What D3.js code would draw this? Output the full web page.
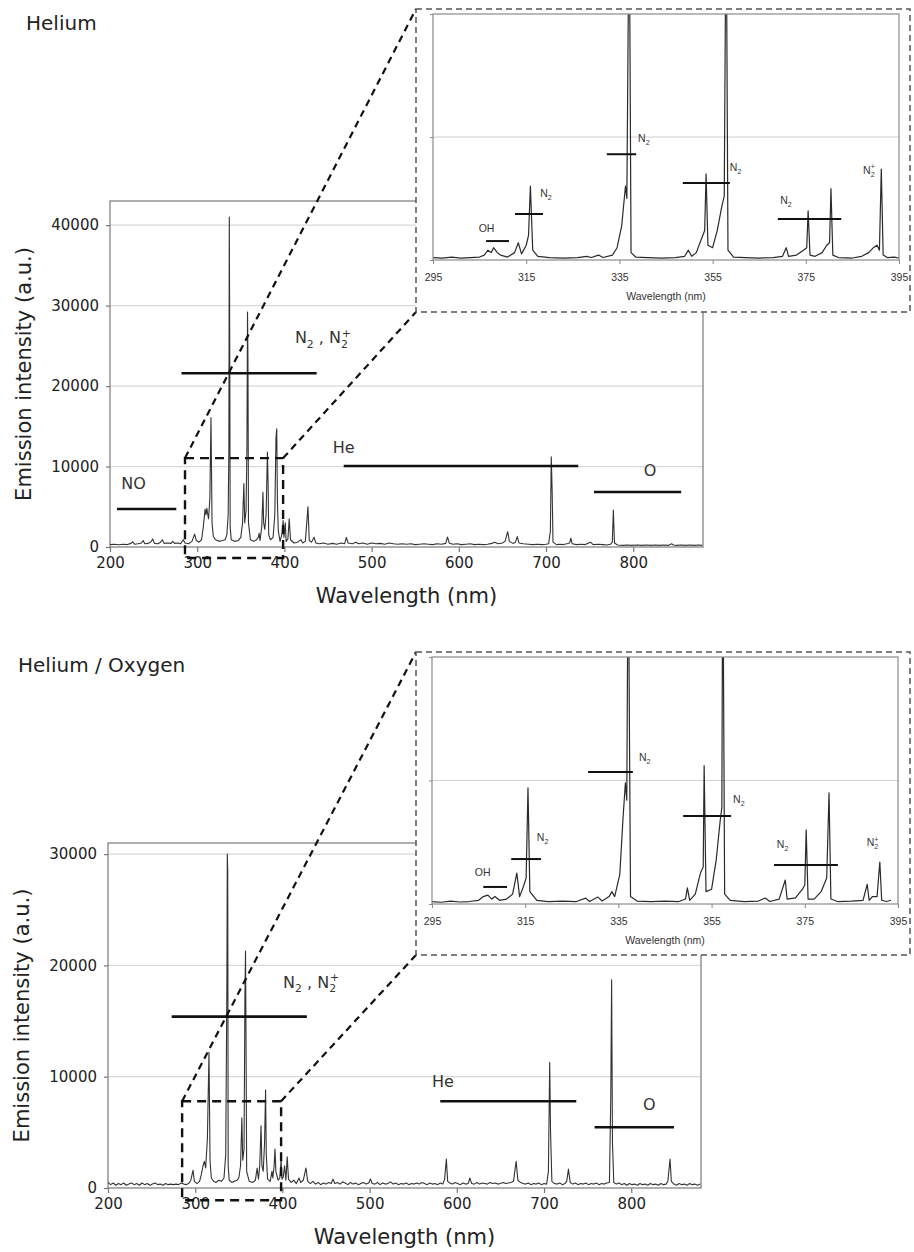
<!DOCTYPE html>
<html>
<head>
<meta charset="utf-8">
<script src="https://cdn.jsdelivr.net/npm/d3@7"></script>
<style>
  body { margin: 0; background: #fff; }
  svg { display: block; }
</style>
</head>
<body>
<svg id="chart" width="914" height="1252"></svg>
<script>
// ---- tick values ----
var wavelengthTicks = [200, 300, 400, 500, 600, 700, 800];
var heIntensityTicks = [0, 10000, 20000, 30000, 40000];
var heO2IntensityTicks = [0, 10000, 20000, 30000];
var insetWavelengthTicks = [295, 315, 335, 355, 375, 395];
var insetLevelTicks = [0, 50, 100];

// ---- Helium spectrum, [wavelength nm, intensity a.u.] ----
var heSpectrum = [
  [200,300],[205,350],[210,280],[215,350],[220,300],[224,450],[226,650],[228,350],[232,400],[236,500],
  [238,800],[240,400],[244,450],[247,650],[249,1000],[251,450],[255,400],[258,600],[260,900],[262,450],
  [266,500],[270,450],[272,700],[274,450],[278,500],[281,400],[284,900],[286,500],[290,400],[294,700],
  [297,1600],[299,800],[302,600],[305,900],[307,2500],[309,4700],[310,4000],[311,4800],[313,3500],[314.5,6000],
  [315.8,16100],[317,3000],[318.5,1300],[321,900],[325,700],[329,800],[332,900],[334,1500],[335.5,4000],[336.3,12000],
  [336.8,41000],[337.3,25000],[337.8,2500],[339,900],[343,700],[347,800],[350,1200],[352,3000],[353.5,7900],[354.5,3000],
  [356,4500],[357,12000],[357.7,29200],[358.2,23000],[358.8,3000],[361,900],[365,700],[368,900],[370,1200],[371,1700],
  [372,800],[374,2500],[375.4,6800],[376.2,3000],[377.5,2200],[379,4000],[380.5,11800],[381.3,8000],[382,1500],[384,900],
  [387,1200],[389,4000],[390.3,13500],[391.2,14700],[392,5500],[393,2000],[395,700],[397,1500],[398.5,3300],[399.5,1200],
  [401,3000],[402,700],[404,1000],[405.5,3500],[407,900],[411,500],[415,600],[419,900],[421,500],[424,700],
  [427,5000],[428.5,800],[431,600],[434,1200],[436,500],[440,400],[445,500],[450,350],[455,450],[460,350],
  [465,500],[469,400],[471,1200],[473,500],[478,400],[482,600],[485,400],[490,500],[495,350],[500,500],
  [505,400],[510,450],[515,350],[520,500],[525,400],[530,350],[535,400],[540,350],[545,400],[550,300],
  [555,350],[560,400],[565,350],[570,300],[575,400],[580,350],[585,450],[587,1250],[589,500],[593,350],
  [598,400],[603,300],[608,350],[613,400],[618,300],[623,350],[628,300],[633,350],[638,450],[641,600],
  [645,400],[650,500],[653,700],[656,1900],[658,700],[662,450],[665,600],[667,1300],[669,500],[674,400],
  [680,350],[685,300],[690,350],[695,300],[700,350],[703,400],[705,2000],[706,11200],[707,7000],[708,600],
  [712,300],[716,350],[720,300],[724,400],[727,500],[728.5,1100],[730,400],[735,300],[740,350],[745,300],
  [749,500],[751,600],[754,300],[760,350],[765,300],[770,250],[774,350],[776,600],[777.2,4600],[778.5,500],
  [782,250],[788,200],[793,250],[798,200],[805,250],[810,200],[815,250],[820,200],[825,250],[830,200],
  [835,250],[840,200],[844,400],[846,250],[850,200],[855,250],[860,200],[865,250],[870,200],[875,250],[879,200]
];

// ---- Helium / Oxygen spectrum ----
var heO2Spectrum = [
  [200,500],[203,300],[206,450],[209,250],[212,400],[215,300],[218,450],[221,250],[224,350],[227,450],
  [230,300],[233,400],[236,250],[239,450],[242,300],[245,400],[248,250],[251,350],[254,450],[257,300],
  [260,350],[263,250],[266,400],[269,300],[272,350],[275,300],[278,350],[281,300],[284,450],[287,350],
  [290,300],[293,450],[295,700],[297.5,1600],[299,600],[302,400],[305,600],[307,1200],[309,2000],[310.5,2400],
  [312,1800],[314,4500],[315.8,12200],[317,2500],[318.5,900],[321,600],[324,500],[327,700],[330,600],[333,900],
  [335,3000],[336.3,18000],[336.8,30000],[337.3,28500],[337.8,2000],[339,700],[342,500],[345,600],[348,700],[350,900],
  [352,2000],[353.5,6300],[354.5,2500],[356,3500],[357,17000],[357.7,21300],[358.3,13000],[359,1500],[362,600],[366,500],
  [369,700],[371,1800],[372.5,800],[374,2000],[375.5,5600],[376.5,2000],[378,1500],[379.5,4000],[380.7,8800],[381.5,3000],
  [383,800],[386,600],[388,1500],[389,900],[390.5,2000],[391.5,3500],[392.5,1500],[395,700],[397,900],[398.5,2500],
  [399.5,800],[401,1000],[402.5,2000],[404,700],[405.5,2800],[407,800],[410,500],[413,700],[416,400],[419,900],
  [421,500],[424,700],[427,1800],[429,600],[432,400],[435,600],[438,350],[441,500],[444,300],[447,450],
  [450,350],[453,500],[456,400],[458,800],[460,400],[463,500],[466,350],[469,550],[472,450],[475,300],
  [478,500],[481,350],[484,450],[487,300],[490,400],[493,500],[496,350],[499,450],[501,800],[503,400],
  [506,350],[509,500],[512,300],[515,450],[518,350],[521,400],[524,550],[527,350],[530,450],[533,300],
  [536,400],[539,350],[542,450],[545,300],[548,400],[551,350],[554,450],[557,350],[560,500],[563,400],
  [566,300],[569,450],[572,350],[575,400],[578,300],[581,450],[584,350],[586,800],[588,2600],[589.5,600],
  [592,450],[595,350],[598,500],[601,400],[604,300],[607,450],[610,350],[613,400],[615,900],[617,400],
  [620,350],[623,500],[626,350],[629,450],[632,400],[635,350],[638,500],[641,400],[644,450],[647,350],
  [650,400],[653,500],[656,400],[659,450],[662,500],[665,600],[668,2400],[670,700],[673,500],[676,400],
  [679,350],[682,450],[685,300],[688,400],[691,350],[694,450],[697,300],[700,400],[703,350],[705,1500],
  [706.5,11300],[707.5,5000],[709,600],[712,400],[715,350],[718,450],[721,300],[724,400],[726,600],[728,1700],
  [730,500],[733,350],[736,450],[739,300],[742,400],[745,350],[748,450],[751,300],[754,400],[757,350],
  [760,450],[763,300],[766,400],[769,350],[772,450],[775,500],[776.5,8000],[777.5,18700],[778.5,4000],[780,500],
  [783,350],[786,450],[789,300],[792,400],[795,250],[798,400],[801,300],[804,350],[807,250],[810,400],
  [813,300],[816,350],[819,250],[822,400],[825,300],[828,350],[831,250],[834,400],[837,300],[840,350],
  [842,600],[844.5,2600],[846,600],[849,350],[852,250],[855,400],[858,300],[861,350],[864,250],[867,400],
  [870,300],[873,350],[876,250],[879,350]
];

// ---- zoomed spectra (295-395 nm, relative level) ----
var heInset = [
  [295,1],[297,0.8],[299,1.2],[301,0.8],[303,1],[305,1.2],[306,2],[306.8,4],[307.5,3],[308,5],
  [308.8,3],[309.5,2],[311,1.2],[312.5,3],[313.3,7],[314,2.5],[315,6],[315.5,10],[315.9,30],[316.4,4],
  [317.5,1.5],[320,1],[323,0.8],[326,1],[328,1.5],[329,1],[330.5,2],[331.5,1],[333.5,2],[334.5,5],
  [335.5,14],[336.3,30],[336.6,25],[337.1,150],[337.5,3],[338.5,1.2],[341,1],[344,0.8],[347,1],[349,1.5],
  [349.8,4],[350.5,1.5],[351.5,3],[352.5,8],[353.3,12],[353.6,35],[354,6],[355,5],[356,12],[357,22],
  [357.5,26],[357.9,150],[358.3,4],[359.5,1.2],[362,1],[365,0.8],[368,1],[370,1.5],[370.8,5],[371.3,1.5],
  [373,2],[374.5,4],[375.2,5],[375.5,20],[375.9,2],[377,1.5],[378.5,3],[379.5,6],[380.1,7],[380.4,29],
  [380.8,2],[382,1],[385,0.8],[387,1.5],[388.5,3],[389.5,5],[390.3,6],[390.8,4],[391.2,37],[391.6,2],
  [392.5,1],[394,1.2],[395,0.8]
];
var heO2Inset = [
  [295,1],[297,0.7],[299,1.2],[301,0.8],[303,1],[305,1.5],[306,3],[307,3.6],[307.8,2],[308.5,3],
  [309.5,1.5],[311,2],[312.3,4],[313.2,12.5],[313.8,3],[314.6,7],[315.2,10.5],[315.6,47],[316,5],[317.5,1.5],
  [320,1],[323,1.2],[326,1],[328,2.4],[328.8,1],[330.6,2.8],[331.5,1.2],[333,3],[333.6,5],[334.2,3],
  [335.3,12],[336,35],[336.5,49],[336.8,42],[337.1,150],[337.6,3],[339,1.2],[342,1],[345,1.2],[348,1],
  [349.4,2],[349.8,6.5],[350.3,1.5],[351.5,4],[352.6,12.5],[353.2,15],[353.4,56],[353.8,5],[355,6],[356,18],
  [356.8,33],[357.2,39],[357.4,150],[357.8,4],[359,1.5],[362,1],[365,1.2],[366.5,2.4],[367.5,1],[369.5,2],
  [370.8,9.7],[371.2,2],[373,2.5],[374.5,6],[375,7.7],[375.3,30],[375.7,2],[377,2],[378.5,5],[379.7,10.5],
  [380.2,45],[380.6,2],[382,1],[385,1.2],[387.5,1.5],[388.4,8],[388.8,1.5],[389.5,3],[390.5,3],[391.1,17],
  [391.5,1.5],[392.5,1],[393.5,1.5]
];

// ---- emission band markers: [label, from nm, to nm, level, label nm, label level] ----
var heBands = [
  ['NO', 208, 276, 4720, 213, 7200],
  ['N_2 , N_2^+', 282, 437, 21600, 412, 25300],
  ['He', 468, 737, 10060, 455.5, 11700],
  ['O', 755, 855, 6830, 812, 8800]
];
var heO2Bands = [
  ['N_2 , N_2^+', 273, 428, 15400, 400.7, 18000],
  ['He', 581, 737, 7790, 571.6, 9040],
  ['O', 758, 849, 5460, 813.5, 6985]
];
var heInsetBands = [
  ['OH', 306.4, 311.3, 7.7, 304.8, 11.4],
  ['N_2', 312.6, 318.6, 18.7, 318, 25.6],
  ['N_2', 332.3, 338.6, 43, 339, 48],
  ['N_2', 348.6, 358.7, 31.3, 358.7, 36.2],
  ['N_2', 369, 382.6, 16.7, 369.5, 22.8],
  ['N_2^+', null, null, null, 387.3, 35]
];
var heO2InsetBands = [
  ['OH', 306, 311.1, 6.9, 304.2, 11.3],
  ['N_2', 312, 318.4, 18.2, 317.5, 25.5],
  ['N_2', 328.5, 338.1, 53.4, 339.4, 57.9],
  ['N_2', 348.9, 359.2, 35.6, 359.6, 40.9],
  ['N_2', 368.4, 382.1, 15.8, 369, 22.7],
  ['N_2^+', null, null, null, 388.3, 23.5]
];

// zoom windows in the main plots: [from nm, to nm, bottom level, top level]
var heZoom = [286, 398.5, -1370, 11050];
var heO2Zoom = [285, 398.5, -1100, 7800];

var svg = d3.select('#chart');
var mainFont = 'DejaVu Sans, Verdana, sans-serif';
var insetFont = 'Liberation Sans, Arial, sans-serif';

/* Write a label where '_c' is a subscript and '^c' a superscript */
function richText(sel, str, fs) {
  var small = fs * 0.68, cur = 0, prevSub = false, i = 0;
  while (i < str.length) {
    var c = str[i];
    if (c === '_' || c === '^') {
      var target = c === '_' ? fs * 0.3 : -fs * 0.42;
      var t = sel.append('tspan').attr('font-size', small).attr('dy', target - cur).text(str[i + 1]);
      if (c === '^' && prevSub) t.attr('dx', -small * 0.56);
      cur = target;
      prevSub = c === '_';
      i += 2;
    } else {
      var j = i;
      while (j < str.length && str[j] !== '_' && str[j] !== '^') j++;
      sel.append('tspan').attr('dy', -cur).text(str.slice(i, j));
      cur = 0;
      prevSub = false;
      i = j;
    }
  }
}

function drawBands(g, bands, x, y, fs, family, lineWidth) {
  bands.forEach(function(b) {
    if (b[1] !== null) {
      g.append('line')
        .attr('x1', x(b[1])).attr('x2', x(b[2]))
        .attr('y1', y(b[3])).attr('y2', y(b[3]))
        .attr('stroke', '#111').attr('stroke-width', lineWidth);
    }
    var t = g.append('text')
      .attr('x', x(b[4])).attr('y', y(b[5]))
      .attr('font-family', family).attr('font-size', fs).attr('fill', '#333');
    richText(t, b[0], fs);
  });
}

function drawPanel(cfg) {
  var g = svg.append('g');

  var x = d3.scaleLinear().domain([200, 880]).range([cfg.left, cfg.right]);
  var y = d3.scaleLinear().domain([0, cfg.yMax]).range([cfg.bottom, cfg.top]);

  g.append('text')
    .attr('x', cfg.titleX).attr('y', cfg.titleY)
    .attr('font-family', mainFont).attr('font-size', 20).attr('fill', '#222')
    .text(cfg.title);

  /* Gridlines */
  g.selectAll('line.grid')
    .data(cfg.yTicks.filter(function(d) { return d > 0; }))
    .enter().append('line')
      .attr('class', 'grid')
      .attr('x1', cfg.left).attr('x2', cfg.right)
      .attr('y1', y).attr('y2', y)
      .attr('stroke', '#d8d8d8').attr('stroke-width', 1.2);

  g.append('rect')
    .attr('x', cfg.left).attr('y', cfg.top)
    .attr('width', cfg.right - cfg.left).attr('height', cfg.bottom - cfg.top)
    .attr('fill', 'none').attr('stroke', '#858585').attr('stroke-width', 1.3);

  var xAxis = g.append('g')
    .attr('transform', 'translate(0,' + cfg.bottom + ')')
    .call(d3.axisBottom(x).tickValues(wavelengthTicks).tickSize(5).tickPadding(5));
  var yAxis = g.append('g')
    .attr('transform', 'translate(' + cfg.left + ',0)')
    .call(d3.axisLeft(y).tickValues(cfg.yTicks).tickSize(4).tickPadding(7).tickFormat(d3.format('d')));

  [xAxis, yAxis].forEach(function(a) {
    a.select('.domain').remove();
    a.selectAll('.tick line').attr('stroke', '#777').attr('stroke-width', 1.2);
    a.selectAll('.tick text')
      .attr('font-family', mainFont).attr('font-size', 15).attr('fill', '#222');
  });

  g.append('text')
    .attr('x', (cfg.left + cfg.right) / 2).attr('y', cfg.xTitleY)
    .attr('text-anchor', 'middle')
    .attr('font-family', mainFont).attr('font-size', 21).attr('fill', '#222')
    .text('Wavelength (nm)');

  g.append('text')
    .attr('transform', 'translate(' + cfg.yTitleX + ',' + ((cfg.top + cfg.bottom) / 2) + ') rotate(-90)')
    .attr('text-anchor', 'middle')
    .attr('font-family', mainFont).attr('font-size', 21).attr('fill', '#222')
    .text('Emission intensity (a.u.)');

  var line = d3.line()
    .x(function(d) { return x(d[0]); })
    .y(function(d) { return y(d[1]); });

  g.append('path')
    .datum(cfg.spectrum)
    .attr('d', line)
    .attr('fill', 'none').attr('stroke', '#333').attr('stroke-width', 1.1)
    .attr('stroke-linejoin', 'round');

  drawBands(g, cfg.bands, x, y, 16, mainFont, 2.6);

  /* Dashed zoom window */
  var z = cfg.zoom;
  g.append('rect')
    .attr('x', x(z[0])).attr('y', y(z[3]))
    .attr('width', x(z[1]) - x(z[0])).attr('height', y(z[2]) - y(z[3]))
    .attr('fill', 'none').attr('stroke', '#111').attr('stroke-width', 2.4)
    .attr('stroke-dasharray', '9,6');

  drawInset(cfg.inset);

  /* Lines from zoom window to inset */
  var box = cfg.inset.box;
  g.append('line')
    .attr('x1', x(z[0])).attr('y1', y(z[3]))
    .attr('x2', box.x0).attr('y2', box.y0)
    .attr('stroke', '#111').attr('stroke-width', 2.2).attr('stroke-dasharray', '7,5');
  g.append('line')
    .attr('x1', x(z[1])).attr('y1', y(z[3]))
    .attr('x2', box.x0).attr('y2', box.y1)
    .attr('stroke', '#111').attr('stroke-width', 2.2).attr('stroke-dasharray', '7,5');
}

function drawInset(cfg) {
  var g = svg.append('g');
  var box = cfg.box;

  g.append('rect')
    .attr('x', box.x0).attr('y', box.y0)
    .attr('width', box.x1 - box.x0).attr('height', box.y1 - box.y0)
    .attr('fill', '#fff').attr('stroke', '#555').attr('stroke-width', 1.5)
    .attr('stroke-dasharray', '6,4');

  var x = d3.scaleLinear().domain([295, 395]).range([cfg.left, cfg.right]);
  var y = d3.scaleLinear().domain([0, 100]).range([cfg.bottom, cfg.top]);

  g.append('line')
    .attr('x1', cfg.left).attr('x2', cfg.right)
    .attr('y1', y(50)).attr('y2', y(50))
    .attr('stroke', '#d0d0d0');

  var clipId = 'clip-' + cfg.id;
  g.append('clipPath').attr('id', clipId)
    .append('rect')
      .attr('x', cfg.left).attr('y', cfg.top)
      .attr('width', cfg.right - cfg.left).attr('height', cfg.bottom - cfg.top);

  var line = d3.line()
    .x(function(d) { return x(d[0]); })
    .y(function(d) { return y(d[1]); });

  g.append('path')
    .datum(cfg.spectrum)
    .attr('clip-path', 'url(#' + clipId + ')')
    .attr('d', line)
    .attr('fill', 'none').attr('stroke', '#2a2a2a').attr('stroke-width', 1.2)
    .attr('stroke-linejoin', 'round');

  g.append('rect')
    .attr('x', cfg.left).attr('y', cfg.top)
    .attr('width', cfg.right - cfg.left).attr('height', cfg.bottom - cfg.top)
    .attr('fill', 'none').attr('stroke', '#8a8a8a').attr('stroke-width', 1.2);

  var xAxis = g.append('g')
    .attr('transform', 'translate(0,' + cfg.bottom + ')')
    .call(d3.axisBottom(x).tickValues(insetWavelengthTicks).tickSize(4).tickPadding(10));
  var yAxis = g.append('g')
    .attr('transform', 'translate(' + cfg.left + ',0)')
    .call(d3.axisLeft(y).tickValues(insetLevelTicks).tickSize(3).tickFormat(''));

  [xAxis, yAxis].forEach(function(a) {
    a.select('.domain').remove();
    a.selectAll('.tick line').attr('stroke', '#888');
    a.selectAll('.tick text')
      .attr('font-family', insetFont).attr('font-size', 10.5).attr('fill', '#333');
  });

  g.append('text')
    .attr('x', (cfg.left + cfg.right) / 2).attr('y', cfg.bottom + 40)
    .attr('text-anchor', 'middle')
    .attr('font-family', insetFont).attr('font-size', 10.5).attr('fill', '#333')
    .text('Wavelength (nm)');

  drawBands(g, cfg.bands, x, y, 10.5, insetFont, 2);
}

drawPanel({
  title: 'Helium', titleX: 26, titleY: 30,
  left: 110, right: 703, top: 201, bottom: 547, yMax: 43000,
  yTicks: heIntensityTicks, xTitleY: 603, yTitleX: 31,
  spectrum: heSpectrum, bands: heBands, zoom: heZoom,
  inset: {
    id: 'he', box: { x0: 416, y0: 9, x1: 910, y1: 312 },
    left: 433, right: 899, top: 14, bottom: 260,
    spectrum: heInset, bands: heInsetBands
  }
});

drawPanel({
  title: 'Helium / Oxygen', titleX: 18, titleY: 672,
  left: 108, right: 701, top: 843, bottom: 1188, yMax: 31000,
  yTicks: heO2IntensityTicks, xTitleY: 1244, yTitleX: 29,
  spectrum: heO2Spectrum, bands: heO2Bands, zoom: heO2Zoom,
  inset: {
    id: 'heo2', box: { x0: 416, y0: 652, x1: 910, y1: 955 },
    left: 432, right: 898, top: 657, bottom: 904,
    spectrum: heO2Inset, bands: heO2InsetBands
  }
});
</script>
</body>
</html>
